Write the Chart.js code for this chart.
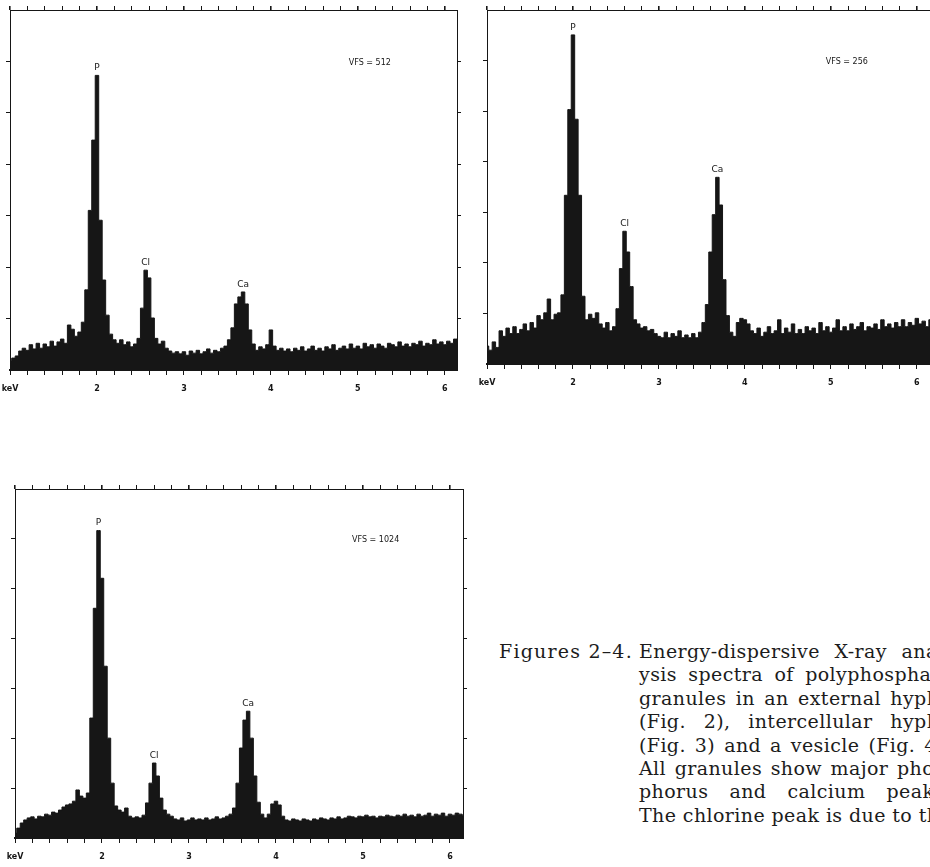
<!DOCTYPE html>
<html>
<head>
<meta charset="utf-8">
<script src="https://cdn.jsdelivr.net/npm/chart.js@4.4.1/dist/chart.umd.min.js"></script>
<style>
    html, body { margin: 0; padding: 0; background: #fff; width: 930px; height: 867px; overflow: hidden; }
    .panel { position: absolute; width: 470px; height: 400px; }
    #fig2 { left: 0; top: 0; }
    #fig3 { left: 477px; top: 0; }
    #fig4 { left: 5px; top: 479px; }
    .caption { position: absolute; left: 499px; top: 640px; font-family: "DejaVu Serif", serif; font-size: 19px; line-height: 23.4px; color: #1c1c1c; white-space: nowrap; }
    .caption .lead { position: absolute; left: 0; top: 0; letter-spacing: 1.2px; }
    .caption .body { position: absolute; left: 140px; top: 0; width: 312px; letter-spacing: 0.4px; }
    .caption .ln { text-align: justify; text-align-last: justify; }
</style>
</head>
<body>
<div class="panel" id="fig2"><canvas id="c2" width="470" height="400"></canvas></div>
<div class="panel" id="fig3"><canvas id="c3" width="470" height="400"></canvas></div>
<div class="panel" id="fig4"><canvas id="c4" width="470" height="400"></canvas></div>

<div class="caption">
    <div class="lead">Figures 2–4.</div>
    <div class="body">
        <div class="ln">Energy-dispersive X-ray anal-</div>
        <div class="ln">ysis spectra of polyphosphate</div>
        <div class="ln">granules in an external hypha</div>
        <div class="ln">(Fig. 2), intercellular hypha</div>
        <div class="ln">(Fig. 3) and a vesicle (Fig. 4).</div>
        <div class="ln">All granules show major phos-</div>
        <div class="ln">phorus and calcium peaks.</div>
        <div class="ln">The chlorine peak is due to the</div>
    </div>
</div>

<script>
"use strict";

// channel calibration of the analyser (keV)
const energyStart = 1.0;
const energyStep = 0.04;

// tick marks along the energy axis, labels only on whole keV
const keVTicks = [1, 1.2, 1.4, 1.6, 1.8, 2, 2.2, 2.4, 2.6, 2.8, 3, 3.2, 3.4, 3.6, 3.8,
    4, 4.2, 4.4, 4.6, 4.8, 5, 5.2, 5.4, 5.6, 5.8, 6];

const peakNames = ["P", "Cl", "Ca"];
const peakEnergies = [1.98, 2.6, 3.67];

// counts per channel, Fig. 2 (external hypha), VFS = 512
const fig2Counts = [
    14, 17, 20, 27, 31, 28, 36, 30, 38, 31, 37, 33, 41, 34, 40, 44, 38, 64, 58, 48,
    54, 68, 114, 227, 327, 419, 213, 128, 78, 51, 43, 38, 43, 36, 40, 33, 37, 45, 88, 142,
    131, 74, 45, 37, 41, 31, 27, 24, 26, 23, 26, 21, 27, 24, 28, 23, 26, 30, 24, 28,
    26, 31, 34, 43, 60, 94, 104, 111, 94, 57, 37, 28, 33, 30, 36, 57, 34, 28, 31, 27,
    30, 26, 31, 28, 33, 27, 30, 34, 28, 31, 27, 33, 30, 36, 28, 31, 34, 30, 37, 31,
    34, 30, 38, 33, 36, 31, 37, 34, 31, 38, 36, 33, 40, 34, 37, 33, 38, 36, 41, 34,
    38, 36, 43, 37, 40, 36, 41, 38, 44, 40
];

// counts per channel, Fig. 3 (intercellular hypha), VFS = 256
const fig3Counts = [
    13, 10, 16, 12, 24, 20, 26, 22, 27, 22, 25, 29, 24, 30, 26, 35, 32, 37, 47, 32,
    36, 37, 50, 122, 184, 238, 177, 122, 49, 32, 36, 33, 37, 29, 26, 30, 24, 27, 40, 69,
    96, 81, 56, 32, 29, 26, 27, 24, 25, 22, 20, 19, 23, 19, 22, 20, 24, 19, 21, 19,
    22, 19, 23, 30, 43, 81, 108, 135, 115, 61, 35, 23, 20, 30, 33, 32, 29, 24, 22, 26,
    20, 23, 27, 22, 24, 32, 22, 26, 23, 29, 22, 25, 22, 27, 24, 26, 22, 30, 24, 27,
    23, 26, 32, 24, 27, 24, 29, 25, 27, 30, 24, 27, 26, 29, 25, 32, 27, 29, 26, 30,
    27, 32, 27, 30, 28, 33, 29, 31, 27, 32
];

// counts per channel, Fig. 4 (vesicle), VFS = 1024
const fig4Counts = [
    15, 29, 44, 53, 59, 62, 56, 64, 62, 70, 67, 76, 73, 82, 91, 97, 100, 108, 141, 123,
    117, 132, 352, 674, 902, 762, 504, 293, 161, 94, 82, 76, 88, 64, 59, 62, 59, 67, 103, 161,
    220, 182, 117, 82, 70, 64, 56, 53, 59, 50, 53, 59, 53, 56, 53, 59, 53, 56, 62, 56,
    59, 64, 70, 88, 161, 264, 346, 372, 293, 182, 105, 70, 59, 70, 100, 108, 97, 64, 53, 50,
    56, 53, 50, 56, 53, 50, 56, 53, 59, 56, 53, 59, 56, 62, 56, 59, 64, 62, 59, 64,
    62, 67, 62, 64, 59, 64, 62, 67, 64, 62, 67, 64, 70, 64, 67, 62, 70, 64, 67, 73,
    64, 70, 67, 73, 64, 70, 67, 73, 70, 67
];

const vfsValues = [512, 256, 1024];

const ink = "#161616";

const peakLabels = {
    id: "peakLabels",
    afterDatasetsDraw: function (chart, args, opts) {
        const ctx = chart.ctx;
        const x = chart.scales.x;
        const y = chart.scales.y;
        const area = chart.chartArea;
        const data = chart.data.datasets[0].data;
        ctx.save();
        ctx.fillStyle = ink;
        ctx.font = "9px 'DejaVu Sans'";
        ctx.textAlign = "center";
        ctx.textBaseline = "bottom";
        peakNames.forEach(function (name, i) {
            let best = null;
            data.forEach(function (pt) {
                if (Math.abs(pt.x - peakEnergies[i]) <= 0.08 && (!best || pt.y > best.y)) {
                    best = pt;
                }
            });
            ctx.fillText(name, x.getPixelForValue(best.x), y.getPixelForValue(best.y) - 3);
        });
        ctx.font = "8px 'DejaVu Sans'";
        ctx.textBaseline = "middle";
        ctx.fillText("VFS = " + opts.vfs, area.left + area.width * 0.805, area.top + area.height * 0.147);
        ctx.restore();
    }
};

function makeSpectrum(canvasId, counts, vfs, xMax, box) {
    let points = counts.map(function (c, i) {
        return { x: Math.round((energyStart + i * energyStep) * 100) / 100, y: c };
    });

    let yTicks = [1, 2, 3, 4, 5, 6].map(function (k) { return { value: vfs * k / 7 }; });
    let frameGrid = { drawOnChartArea: false, drawTicks: true, tickLength: 4, color: ink, lineWidth: 1 };
    let noLabel = { display: true, callback: function () { return ""; }, font: { size: 1 } };

    // keep the frame where it is, even if the end labels stick out
    function fitHeight(h) {
        return function (axis) {
            axis.height = h;
            axis.paddingLeft = 0;
            axis.paddingRight = 0;
        };
    }

    return new Chart(document.getElementById(canvasId).getContext("2d"), {
        type: "line",
        data: {
            datasets: [{
                data: points,
                stepped: "middle",
                fill: "origin",
                backgroundColor: ink,
                borderColor: ink,
                borderWidth: 1,
                pointRadius: 0
            }]
        },
        options: {
            responsive: false,
            animation: false,
            layout: { padding: 0 },
            plugins: {
                legend: { display: false },
                tooltip: { enabled: false },
                peakLabels: { vfs: vfs }
            },
            scales: {
                x: {
                    type: "linear",
                    position: "bottom",
                    min: energyStart,
                    max: xMax,
                    afterBuildTicks: function (axis) {
                        axis.ticks = keVTicks.map(function (v) { return { value: v }; });
                    },
                    ticks: {
                        autoSkip: false,
                        maxRotation: 0,
                        padding: 9,
                        color: ink,
                        font: { family: "DejaVu Sans", size: 8, weight: "bold" },
                        callback: function (v) {
                            if (v === energyStart) return "keV";
                            return Number.isInteger(v) ? String(v) : "";
                        }
                    },
                    grid: { drawOnChartArea: false, drawTicks: true, tickLength: 5, color: ink },
                    border: { display: true, color: ink, width: 2 },
                    afterFit: fitHeight(box.b)
                },
                x2: {
                    type: "linear",
                    position: "top",
                    min: energyStart,
                    max: xMax,
                    afterBuildTicks: function (axis) {
                        axis.ticks = keVTicks.map(function (v) { return { value: v }; });
                    },
                    ticks: noLabel,
                    grid: {
                        drawOnChartArea: false, drawTicks: true, tickLength: 4, color: ink,
                        lineWidth: function (c) { return Number.isInteger(c.tick && c.tick.value) ? 1.6 : 1; }
                    },
                    border: { display: true, color: ink, width: 1 },
                    afterFit: fitHeight(box.t)
                },
                y: {
                    position: "left",
                    min: 0,
                    max: vfs,
                    afterBuildTicks: function (axis) { axis.ticks = yTicks.slice(); },
                    ticks: noLabel,
                    grid: frameGrid,
                    border: { display: true, color: ink, width: 1 },
                    afterFit: function (axis) { axis.width = box.l; axis.paddingTop = 0; axis.paddingBottom = 0; }
                },
                y2: {
                    position: "right",
                    min: 0,
                    max: vfs,
                    afterBuildTicks: function (axis) { axis.ticks = yTicks.slice(); },
                    ticks: noLabel,
                    grid: frameGrid,
                    border: { display: true, color: ink, width: 1 },
                    afterFit: function (axis) { axis.width = box.r; axis.paddingTop = 0; axis.paddingBottom = 0; }
                }
            }
        },
        plugins: [peakLabels]
    });
}

makeSpectrum("c2", fig2Counts, vfsValues[0], 6.14, { l: 10, r: 13, t: 10, b: 30 });
makeSpectrum("c3", fig3Counts, vfsValues[1], 6.2, { l: 10, r: 13, t: 10, b: 36 });
makeSpectrum("c4", fig4Counts, vfsValues[2], 6.15, { l: 10, r: 12, t: 10, b: 41 });
</script>
</body>
</html>
